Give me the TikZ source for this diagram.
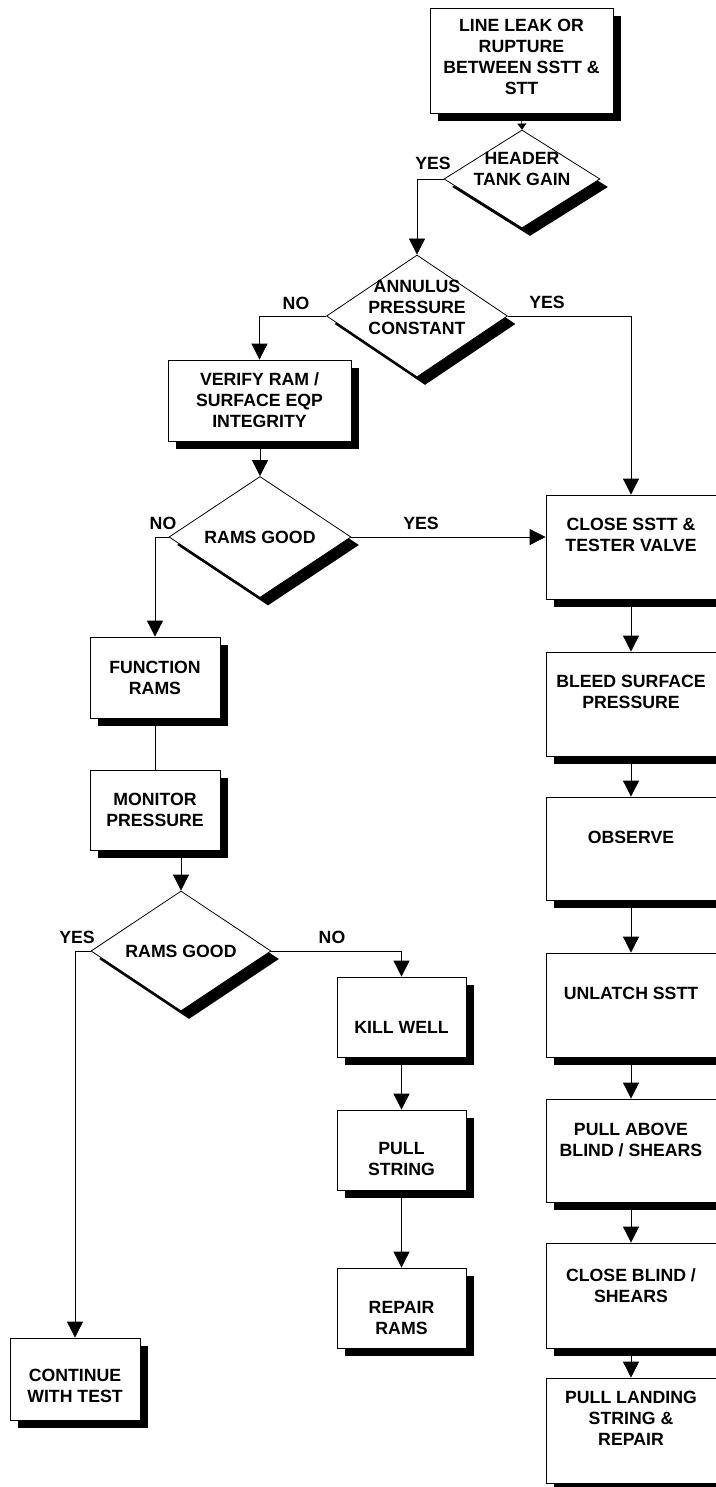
\documentclass[tikz,border=0pt]{standalone}
\usepackage{fontspec}
\setmainfont{Liberation Sans}
\usetikzlibrary{arrows.meta,shapes.geometric,shadows}
\newcommand{\boxtext}[2][0pt]{\raisebox{\dimexpr-6.5pt-#1\relax}[0pt][0pt]{\makebox[0pt]{\begin{tabular}{@{}c@{}}#2\end{tabular}}}}

\begin{document}
\begin{tikzpicture}[x=1pt,y=-1pt,
  every node/.style={font=\fontsize{17.7}{21}\selectfont\bfseries, inner sep=0pt},
  stepbox/.style={draw=black, line width=0.8pt, fill=white, rectangle,
    drop shadow={shadow xshift=8pt, shadow yshift=-8pt, fill=black, opacity=1}},
  decision/.style={stepbox, diamond},
  link/.style={line width=0.8pt, -{Triangle[length=16pt,width=16pt]}}]
\useasboundingbox (0,0) rectangle (715,1487);
\node[stepbox, minimum width=183, minimum height=105] (leak) at (521.5,60.5)
  {\boxtext[-4pt]{LINE LEAK OR\\RUPTURE\\BETWEEN SSTT \&\\STT}};
\node[decision, minimum width=156, minimum height=98] (header) at (522,179)
  {\boxtext[-10pt]{HEADER\\TANK GAIN}};
\node[decision, minimum width=181, minimum height=122] (annulus) at (417,316)
  {\boxtext[-9pt]{ANNULUS\\PRESSURE\\CONSTANT}};
\node[stepbox, minimum width=183, minimum height=81] (verify) at (259.5,400.5)
  {\boxtext{VERIFY RAM /\\SURFACE EQP\\INTEGRITY}};
\node[decision, minimum width=182, minimum height=121] (rams1) at (260,537)
  {\boxtext{RAMS GOOD}};
\node[stepbox, minimum width=130, minimum height=81] (function) at (155,677.5)
  {\boxtext{FUNCTION\\RAMS}};
\node[stepbox, minimum width=130, minimum height=80] (monitor) at (155,810)
  {\boxtext{MONITOR\\PRESSURE}};
\node[decision, minimum width=180, minimum height=120] (rams2) at (181,951)
  {\boxtext{RAMS GOOD}};
\node[stepbox, minimum width=129, minimum height=80] (kill) at (401.5,1017)
  {\boxtext[10pt]{KILL WELL}};
\node[stepbox, minimum width=129, minimum height=80] (pullstr) at (401.5,1150)
  {\boxtext[9pt]{PULL\\STRING}};
\node[stepbox, minimum width=129, minimum height=80] (repair) at (401.5,1308)
  {\boxtext[10pt]{REPAIR\\RAMS}};
\node[stepbox, minimum width=130, minimum height=82] (cont) at (75,1379)
  {\boxtext[7pt]{CONTINUE\\WITH TEST}};
\node[stepbox, minimum width=170, minimum height=104] (close) at (631,547)
  {\boxtext[-12pt]{CLOSE SSTT \&\\TESTER VALVE}};
\node[stepbox, minimum width=170, minimum height=104] (bleed) at (631,704)
  {\boxtext[-12pt]{BLEED SURFACE\\PRESSURE}};
\node[stepbox, minimum width=170, minimum height=103] (observe) at (631,848.5)
  {\boxtext[-11pt]{OBSERVE}};
\node[stepbox, minimum width=170, minimum height=104] (unlatch) at (631,1005)
  {\boxtext[-12pt]{UNLATCH SSTT}};
\node[stepbox, minimum width=170, minimum height=103] (above) at (631,1150.5)
  {\boxtext[-11pt]{PULL ABOVE\\BLIND / SHEARS}};
\node[stepbox, minimum width=170, minimum height=105] (blind) at (631,1295.5)
  {\boxtext[-10pt]{CLOSE BLIND /\\SHEARS}};
\node[stepbox, minimum width=170, minimum height=105] (landing) at (631,1430.5)
  {\boxtext[-12pt]{PULL LANDING\\STRING \&\\REPAIR}};
\node (yes1) at (433,163) {YES};
\node (no1) at (296,303) {NO};
\node (yes2) at (547,302) {YES};
\node (no2) at (163,523) {NO};
\node (yes3) at (421,523) {YES};
\node (yes4) at (77,937) {YES};
\node (no3) at (332,937) {NO};
\draw[line width=0.8pt, -{Triangle[length=6pt,width=9pt]}] (leak.south) -- (header.north);
\draw[link] (header.west) -| (annulus.north);
\draw[link] (annulus.west) -| (verify.north);
\draw[link] (annulus.east) -| (close.north);
\draw[link] (verify.south -| rams1.north) -- (rams1.north);
\draw[link] (rams1.east) -- (rams1.east -| close.west);
\draw[link] (rams1.west) -| (function.north);
\draw[line width=0.8pt] (function.south) -- (monitor.north);
\draw[link] (monitor.south -| rams2.north) -- (rams2.north);
\draw[link] (rams2.east) -| (kill.north);
\draw[link] (rams2.west) -| (cont.north);
\draw[link] (kill.south) -- (pullstr.north);
\draw[link] (pullstr.south) -- (repair.north);
\foreach \a/\b in {close/bleed, bleed/observe, observe/unlatch, unlatch/above, above/blind, blind/landing}
  \draw[link] (\a.south) -- (\b.north);
\end{tikzpicture}
\end{document}
